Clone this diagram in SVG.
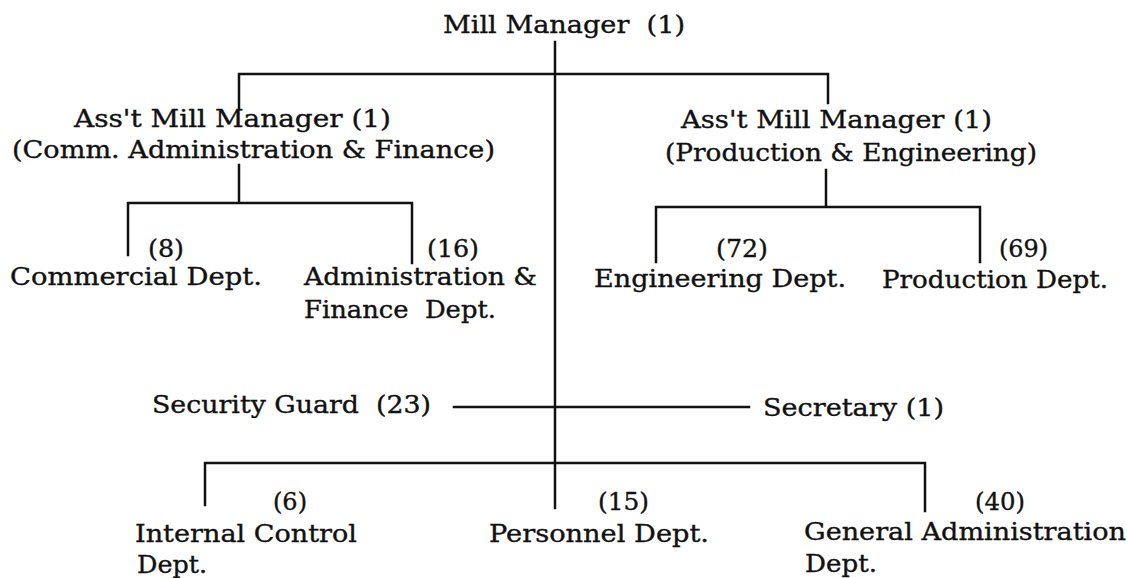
<svg xmlns="http://www.w3.org/2000/svg" width="1127" height="578" viewBox="0 0 1127 578">
<style>
text{font-family:"DejaVu Serif","Liberation Serif",serif;font-size:23.5px;fill:#111;stroke:#111;stroke-width:0.35;white-space:pre}
.ln{stroke:#111;stroke-width:2.5;fill:none;stroke-linecap:square}
</style>
<rect width="1127" height="578" fill="#fff"/>
<g id="connectors" class="ln">
<path d="M555,42V508"/>
<path d="M239,108V74H828V103"/>
<path d="M239,165V203M128,255V203H412V263"/>
<path d="M826,170V207M656,262V207H980V262"/>
<path d="M454,407H749"/>
<path d="M205,505V463H925V511"/>
</g>
<g id="mill-manager"><text x="443" y="33" textLength="242" lengthAdjust="spacingAndGlyphs">Mill Manager  (1)</text></g>
<g id="asst-comm">
<text x="74" y="127" textLength="317" lengthAdjust="spacingAndGlyphs">Ass't Mill Manager (1)</text>
<text x="12" y="158" textLength="483" lengthAdjust="spacingAndGlyphs">(Comm. Administration &amp; Finance)</text>
</g>
<g id="asst-prod">
<text x="681" y="128" textLength="311" lengthAdjust="spacingAndGlyphs">Ass't Mill Manager (1)</text>
<text x="665" y="161" textLength="372" lengthAdjust="spacingAndGlyphs">(Production &amp; Engineering)</text>
</g>
<g id="commercial">
<text x="148" y="257" textLength="36" lengthAdjust="spacingAndGlyphs">(8)</text>
<text x="10" y="285" textLength="252" lengthAdjust="spacingAndGlyphs">Commercial Dept.</text>
</g>
<g id="admin-finance">
<text x="427" y="257" textLength="52" lengthAdjust="spacingAndGlyphs">(16)</text>
<text x="304" y="285" textLength="233" lengthAdjust="spacingAndGlyphs">Administration &amp;</text>
<text x="304" y="318" textLength="192" lengthAdjust="spacingAndGlyphs">Finance  Dept.</text>
</g>
<g id="engineering">
<text x="716" y="257" textLength="52" lengthAdjust="spacingAndGlyphs">(72)</text>
<text x="594" y="287" textLength="252" lengthAdjust="spacingAndGlyphs">Engineering Dept.</text>
</g>
<g id="production">
<text x="999" y="257" textLength="49" lengthAdjust="spacingAndGlyphs">(69)</text>
<text x="882" y="288" textLength="226" lengthAdjust="spacingAndGlyphs">Production Dept.</text>
</g>
<g id="security"><text x="152" y="413" textLength="279" lengthAdjust="spacingAndGlyphs">Security Guard  (23)</text></g>
<g id="secretary"><text x="763" y="416" textLength="181" lengthAdjust="spacingAndGlyphs">Secretary (1)</text></g>
<g id="internal-control">
<text x="273" y="510" textLength="34" lengthAdjust="spacingAndGlyphs">(6)</text>
<text x="135" y="542" textLength="222" lengthAdjust="spacingAndGlyphs">Internal Control</text>
<text x="137" y="573" textLength="70" lengthAdjust="spacingAndGlyphs">Dept.</text>
</g>
<g id="personnel">
<text x="598" y="510" textLength="51" lengthAdjust="spacingAndGlyphs">(15)</text>
<text x="489" y="542" textLength="220" lengthAdjust="spacingAndGlyphs">Personnel Dept.</text>
</g>
<g id="general-admin">
<text x="975" y="510" textLength="50" lengthAdjust="spacingAndGlyphs">(40)</text>
<text x="804" y="540" textLength="322" lengthAdjust="spacingAndGlyphs">General Administration</text>
<text x="805" y="572" textLength="72" lengthAdjust="spacingAndGlyphs">Dept.</text>
</g>
</svg>
